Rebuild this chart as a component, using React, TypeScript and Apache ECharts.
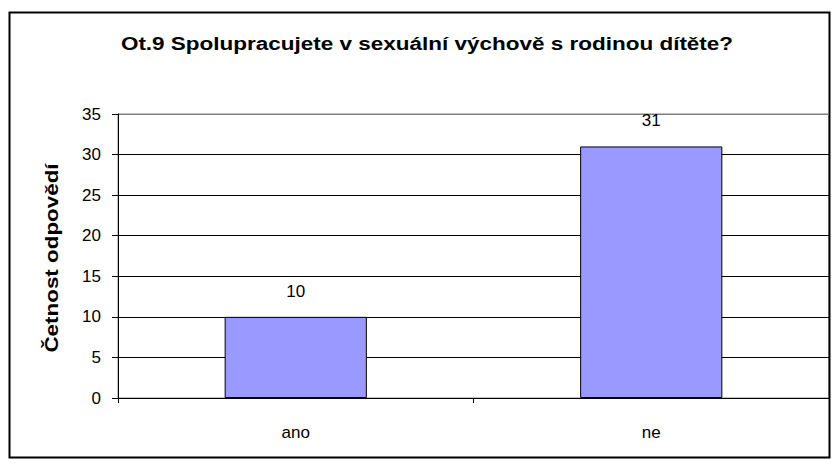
import React, { useEffect, useRef } from "react";
import * as echarts from "echarts";

const categories = ["ano", "ne"];
const values = [10, 31];
const yTicks = [0, 5, 10, 15, 20, 25, 30, 35];
const titleText = "Ot.9 Spolupracujete v sexuální výchově s rodinou dítěte?";
const yAxisName = "Četnost odpovědí";

const FONT = "Liberation Sans, Arial, sans-serif";

export default function App() {
  const ref = useRef<HTMLDivElement>(null);
  useEffect(() => {
    if (!ref.current) return;
    const chart = echarts.init(ref.current, null, { renderer: "svg" });
    const splitColors = yTicks.map((t, i) => (i === yTicks.length - 1 ? "#808080" : "#000000"));
    chart.setOption({
      animation: false,
      backgroundColor: "#ffffff",
      graphic: [
        {
          type: "rect",
          shape: { x: 9.5, y: 12.5, width: 820, height: 445 },
          style: { fill: "none", stroke: "#000", lineWidth: 2 },
          silent: true,
        },
        {
          type: "text",
          x: 427,
          y: 44,
          scaleX: 1.25,
          style: {
            text: titleText,
            fontFamily: FONT,
            fontSize: 18,
            fontWeight: "bold",
            fill: "#000",
            align: "center",
            verticalAlign: "middle",
          },
          silent: true,
        },
        {
          type: "text",
          x: 51,
          y: 258,
          rotation: Math.PI / 2,
          scaleX: 1.18,
          style: {
            text: yAxisName,
            fontFamily: FONT,
            fontSize: 19,
            fontWeight: "bold",
            fill: "#000",
            align: "center",
            verticalAlign: "middle",
          },
          silent: true,
        },
      ],
      grid: {
        left: 118,
        top: 114,
        right: 5,
        bottom: 66,
        show: true,
        borderColor: "#808080",
        borderWidth: 1,
        backgroundColor: "transparent",
      },
      xAxis: {
        type: "category",
        data: categories,
        axisLine: { lineStyle: { color: "#000", width: 1 } },
        axisTick: { show: true, length: 5, lineStyle: { color: "#000" } },
        axisLabel: { margin: 26, fontFamily: FONT, fontSize: 17, color: "#000" },
      },
      yAxis: {
        type: "value",
        min: 0,
        max: 35,
        interval: 5,
        axisLine: { show: true, lineStyle: { color: "#000", width: 1 } },
        axisTick: { show: true, length: 6, lineStyle: { color: "#000" } },
        axisLabel: { margin: 17, fontFamily: FONT, fontSize: 17, color: "#000" },
        splitLine: { show: true, lineStyle: { color: splitColors, width: 1 } },
      },
      series: [
        {
          type: "bar",
          data: values,
          barWidth: "40%",
          itemStyle: { color: "#9999FF", borderColor: "#000", borderWidth: 1 },
          label: {
            show: true,
            position: "top",
            distance: 17,
            fontFamily: FONT,
            fontSize: 17,
            color: "#000",
          },
        },
      ],
    });
    return () => chart.dispose();
  }, []);
  return (
    <div
      ref={ref}
      style={{ position: "fixed", left: 0, top: 0, width: 834, height: 464 }}
    />
  );
}
